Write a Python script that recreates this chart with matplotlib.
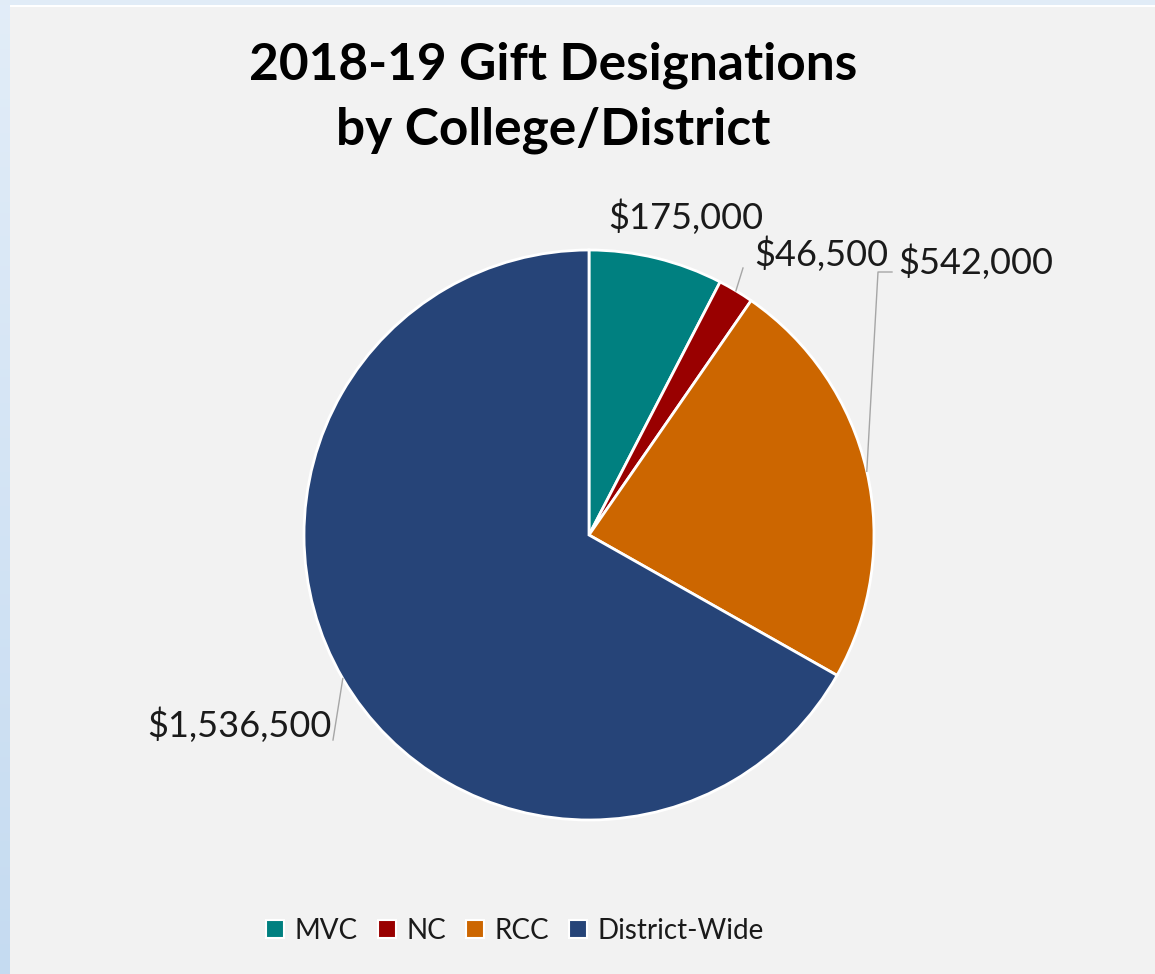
import numpy as np
import matplotlib
matplotlib.use('Agg')
import matplotlib.pyplot as plt
from matplotlib.lines import Line2D
from matplotlib.patches import Rectangle

# data
categories = ['MVC', 'NC', 'RCC', 'District-Wide']
amounts = [175000, 46500, 542000, 1536500]
colors = ['#008080', '#990000', '#CC6600', '#264478']

plt.rcParams['font.family'] = ['Lato', 'DejaVu Sans']

W, H = 1155, 974
fig = plt.figure(figsize=(W / 100, H / 100), dpi=100, facecolor='#f2f2f2')

# light blue frame on top and left edges
bg = fig.add_axes([0, 0, 1, 1], zorder=-10)
bg.axis('off')
grad = np.linspace(0, 1, 256).reshape(-1, 1)
top_c = np.array([0.886, 0.929, 0.973])
bot_c = np.array([0.773, 0.859, 0.945])
img = top_c + grad[..., None] * (bot_c - top_c)
bg.imshow(img, extent=(0, 10, H, 0), aspect='auto')
bg.add_patch(Rectangle((0, 0), W, 5, color='#e1ecf7', lw=0))
bg.add_patch(Rectangle((10, 5), W, 2, color='white', lw=0))
bg.set_xlim(0, W)
bg.set_ylim(H, 0)

# pie axes: center (589, 535) px, radius 285 px
cx, cy, r = 589, 535, 285
ax = fig.add_axes([(cx - r) / W, (H - cy - r) / H, 2 * r / W, 2 * r / H])
wedges, _ = ax.pie(amounts, colors=colors, startangle=90, counterclock=False,
                   wedgeprops=dict(edgecolor='white', linewidth=2))
ax.set_xlim(-1, 1)
ax.set_ylim(-1, 1)


def px(x, y):
    return (x - cx) / r, (cy - y) / r


# label placement (pixels): text anchor, alignment, leader points after wedge edge
label_pos = [((686, 217), 'center', []),
             ((754, 254), 'left', [(743, 268)]),
             ((898, 262), 'left', [(878, 272), (892, 272)]),
             ((332, 725), 'right', [(333, 740)])]

for w, amt, (pos, ha, leader) in zip(wedges, amounts, label_pos):
    ang = np.deg2rad((w.theta1 + w.theta2) / 2)
    tx, ty = px(*pos)
    ax.text(tx, ty, '${:,}'.format(amt), ha=ha, va='center', fontsize=26,
            color='#1a1a1a', clip_on=False)
    if leader:
        xs = [np.cos(ang)] + [px(*p)[0] for p in leader]
        ys = [np.sin(ang)] + [px(*p)[1] for p in leader]
        ax.plot(xs, ys, color='#a6a6a6', lw=1, clip_on=False)

fig.text(553 / W, 1 - 65 / H, '2018-19 Gift Designations', ha='center', va='center',
         fontsize=37, fontweight='bold', color='black')
fig.text(553 / W, 1 - 130 / H, 'by College/District', ha='center', va='center',
         fontsize=37, fontweight='bold', color='black')

handles = [Line2D([], [], marker='s', linestyle='', markersize=13, markerfacecolor=c,
                  markeredgecolor='white', markeredgewidth=1.5) for c in colors]
fig.legend(handles, categories, loc='center', bbox_to_anchor=(514 / W, 1 - 931 / H),
           ncol=4, frameon=False, fontsize=20, handlelength=0.8, handletextpad=0.3,
           columnspacing=0.65, labelcolor='#1a1a1a')

fig.savefig('out.png', dpi=100, facecolor=fig.get_facecolor())
